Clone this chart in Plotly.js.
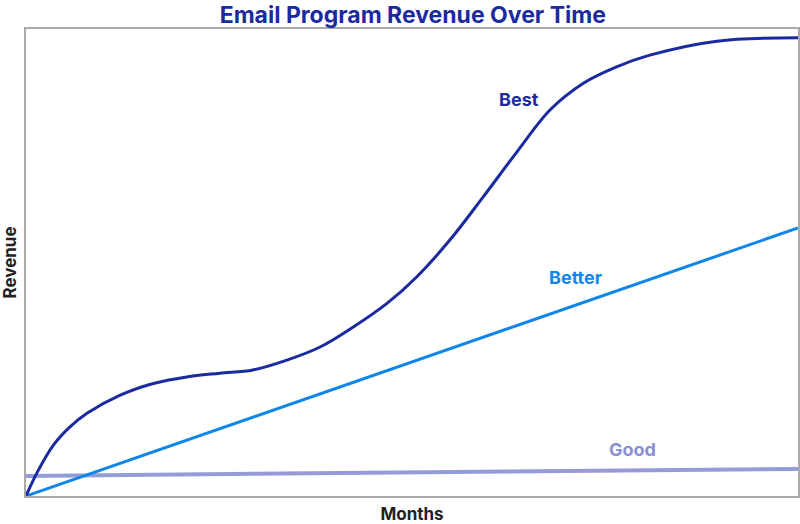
<!DOCTYPE html>
<html>
<head>
<meta charset="utf-8">
<script src="https://cdn.plot.ly/plotly-3.0.1.min.js"></script>
<style>html,body{margin:0;padding:0;background:#fff;}#chart{width:800px;height:524px;}</style>
</head>
<body>
<div id="chart"></div>
<script>
// Data (abstract units: months 0-100, revenue 0-100)
const bestMonths  = [0, 1.4, 3.5, 5.7, 7.9, 12.2, 16.5, 20.8, 25.1, 29.4, 33.8, 38.1, 42.4, 46.8, 50.6, 54.9, 59.2, 63.6, 67.9, 72.2, 76.5, 80.8, 89.5, 100];
const bestRevenue = [0, 4.9, 10.8, 14.8, 17.7, 21.6, 24.1, 25.5, 26.3, 27.0, 29.1, 31.9, 36.2, 41.3, 46.9, 54.8, 64.0, 73.7, 82.7, 88.4, 91.9, 94.4, 97.4, 98.1];
const betterMonths  = [0, 100];
const betterRevenue = [0, 57.4];
const goodMonths  = [0, 100];
const goodRevenue = [4.3, 5.8];
const seriesLabels = ["Best", "Better", "Good"];
const labelMonths  = [63.9, 71.2, 78.5];
const labelRevenue = [84.8, 46.7, 9.9];
const seriesColors = ["#1b2a9e", "#1086ea", "#8890d4"];

const font = "Inter, Roboto, 'Noto Sans', sans-serif";

const traces = [
  {x: goodMonths, y: goodRevenue, mode: "lines", line: {color: seriesColors[2], width: 4}, opacity: 0.9, hoverinfo: "skip"},
  {x: betterMonths, y: betterRevenue, mode: "lines", line: {color: seriesColors[1], width: 3}, hoverinfo: "skip"},
  {x: bestMonths, y: bestRevenue, mode: "lines", line: {color: seriesColors[0], width: 3, shape: "spline", smoothing: 1}, hoverinfo: "skip"}
];

const annotations = seriesLabels.map((t, i) => ({
  x: labelMonths[i], y: labelRevenue[i], xref: "x", yref: "y",
  text: "<b>" + t + "</b>", showarrow: false,
  font: {family: font, size: 18, color: seriesColors[i]},
  xanchor: "center", yanchor: "middle"
}));

const layout = {
  width: 800, height: 524,
  margin: {l: 26, r: 2, t: 29, b: 28},
  paper_bgcolor: "#fff", plot_bgcolor: "#fff",
  showlegend: false,
  title: {text: "<b>Email Program Revenue Over Time</b>", font: {family: font, size: 23, color: "#1b2a9e"},
          x: 0.516, xanchor: "center", y: 0.971, yanchor: "middle", yref: "container"},
  xaxis: {range: [0, 100], showticklabels: false, ticks: "", showgrid: false, zeroline: false,
          showline: true, mirror: true, linecolor: "#aaaaaa", linewidth: 2,
          title: {text: "<b>Months</b>", font: {family: font, size: 17, color: "#222"}, standoff: 14}},
  yaxis: {range: [0, 100], showticklabels: false, ticks: "", showgrid: false, zeroline: false,
          showline: true, mirror: true, linecolor: "#aaaaaa", linewidth: 2,
          title: {text: "<b>Revenue</b>", font: {family: font, size: 17, color: "#222"}, standoff: 6}},
  annotations: annotations
};

Plotly.newPlot("chart", traces, layout, {displayModeBar: false, staticPlot: true});
</script>
</body>
</html>
